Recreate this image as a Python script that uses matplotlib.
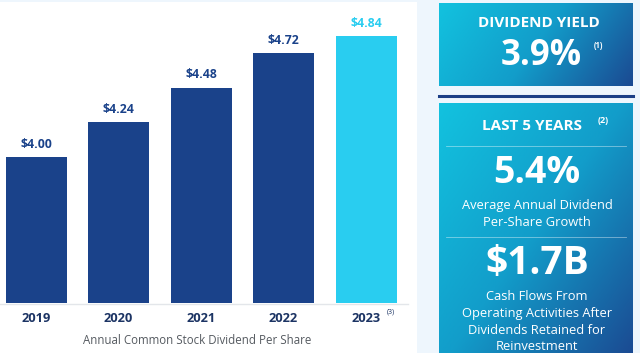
import numpy as np
import matplotlib.pyplot as plt
from matplotlib.colors import LinearSegmentedColormap
from matplotlib.patches import Rectangle

# Datos del gráfico
anios = ['2019', '2020', '2021', '2022', '2023']
dividendos = [4.00, 4.24, 4.48, 4.72, 4.84]
etiquetas = ['$4.00', '$4.24', '$4.48', '$4.72', '$4.84']

W, H = 640, 353
NAVY = '#1A428A'
CYAN = '#29CDF0'
plt.rcParams['font.family'] = ['Open Sans', 'DejaVu Sans']


def px(x, y):
    # pasar pixeles a coordenadas de figura
    return x / W, 1 - y / H


def caja(fig, x0, y0, x1, y1):
    ax = fig.add_axes([x0 / W, 1 - y1 / H, (x1 - x0) / W, (y1 - y0) / H])
    w, h = x1 - x0, y1 - y0
    xx, yy = np.meshgrid(np.linspace(0, w, 200), np.linspace(0, h, 200))
    t = xx + 0.7 * yy
    t = t / t.max()
    cmap = LinearSegmentedColormap.from_list('g', ['#12C2DF', '#129DCA', '#1B4A92'])
    ax.imshow(t, cmap=cmap, aspect='auto', extent=(0, 1, 1, 0))
    ax.set_xlim(0, 1)
    ax.set_ylim(1, 0)
    ax.axis('off')
    return ax


fig = plt.figure(figsize=(6.4, 3.53), dpi=100, facecolor='#EEF6FD')

# panel blanco
fig.patches.append(Rectangle((0, 0), 417 / W, 1 - 2 / H, transform=fig.transFigure,
                             facecolor='white', edgecolor='none', zorder=-5))

# barras
ax = fig.add_axes([0, 50 / H, 1, 303 / H])
ax.set_zorder(2)
ax.set_facecolor('none')
escala = 82.5
x = np.arange(len(anios))
colores = [NAVY] * 4 + [CYAN]
ax.bar(x, dividendos, width=61 / escala, color=colores, bottom=0)
ax.set_xlim(-36 / escala, (W - 36) / escala)
ax.set_ylim(2.986, 2.986 + 303 / 144.0)
for i, (v, lab) in enumerate(zip(dividendos, etiquetas)):
    ax.text(i, v + 0.045, lab, ha='center', va='bottom', fontsize=8.8,
            fontweight='bold', color=colores[i])
ax.axis('off')

# linea base y etiquetas
fig.add_artist(plt.Line2D([0, 408 / W], [1 - 303.5 / H] * 2, color='#E3E6EA', lw=1))
for i, a in enumerate(anios):
    fx, fy = px(36 + i * escala, 319)
    fig.text(fx, fy, a, ha='center', va='center', fontsize=9.3, fontweight='bold', color='#1C3464')
fig.text(*px(391, 312), '(3)', ha='center', va='center', fontsize=5, color='#1C3464')
fig.text(*px(197, 341), 'Annual Common Stock Dividend Per Share', ha='center', va='center',
         fontsize=8.3, color='#555A60')

# cajas de la derecha
caja(fig, 439, 3, 633, 86)
fig.add_artist(plt.Line2D([439 / W, 633 / W], [1 - 96 / H] * 2, color='#1C3F86', lw=2.2))
caja(fig, 439, 103, 633, 356)
for yl in (146, 237):
    fig.add_artist(plt.Line2D([446 / W, 626 / W], [1 - yl / H] * 2, color='white', lw=0.6, alpha=0.45))

blanco = dict(color='white', ha='center', va='center')
fig.text(*px(539, 23), 'DIVIDEND YIELD', fontsize=11, fontweight='bold', **blanco)
fig.text(*px(541, 56), '3.9%', fontsize=25, fontweight='bold', **blanco)
fig.text(*px(598, 46), '(1)', fontsize=5.5, fontweight='bold', **blanco)
fig.text(*px(532, 126), 'LAST 5 YEARS', fontsize=11, fontweight='bold', **blanco)
fig.text(*px(603, 121), '(2)', fontsize=6.5, fontweight='bold', **blanco)
fig.text(*px(537, 173), '5.4%', fontsize=27, fontweight='bold', **blanco)
fig.text(*px(537, 206), 'Average Annual Dividend', fontsize=9.3, **blanco)
fig.text(*px(537, 222), 'Per-Share Growth', fontsize=9.3, **blanco)
fig.text(*px(537, 263), '$1.7B', fontsize=28, fontweight='bold', **blanco)
fig.text(*px(537, 296), 'Cash Flows From', fontsize=9.3, **blanco)
fig.text(*px(537, 313), 'Operating Activities After', fontsize=9.3, **blanco)
fig.text(*px(537, 330), 'Dividends Retained for', fontsize=9.3, **blanco)
fig.text(*px(537, 346), 'Reinvestment', fontsize=9.3, **blanco)

fig.savefig('out.png', dpi=100, facecolor=fig.get_facecolor())
